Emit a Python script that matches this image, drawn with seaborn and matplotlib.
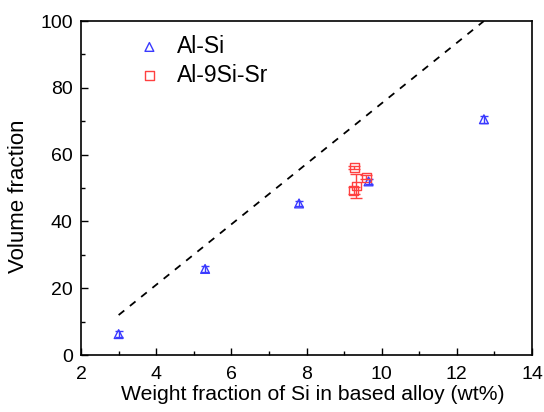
import pandas as pd
import numpy as np
import matplotlib.pyplot as plt
import seaborn as sns
from matplotlib.ticker import MultipleLocator

sns.set_style("ticks")
plt.rcParams['font.family'] = ['Liberation Sans', 'DejaVu Sans']
plt.rcParams['text.color'] = 'black'
plt.rcParams['axes.labelcolor'] = 'black'
plt.rcParams['xtick.color'] = 'black'
plt.rcParams['ytick.color'] = 'black'
plt.rcParams['axes.edgecolor'] = 'black'

# Al-Si series
alsi_x = [3.0, 5.3, 7.8, 9.65, 12.72]
alsi_y = [6.3, 25.8, 45.4, 52.0, 70.6]
alsi_err = [1.0, 0.8, 0.8, 0.8, 1.0]

# Al-9Si-Sr series
sr_x = [9.27, 9.32, 9.25, 9.59]
sr_y = [56.1, 50.6, 49.2, 53.2]
sr_err = [0.5, 3.5, 1.0, 0.6]

# dashed reference line
line_x = [3.0, 12.72]
line_y = [12.0, 100.0]

df = pd.DataFrame({
    "x": alsi_x + sr_x,
    "y": alsi_y + sr_y,
    "alloy": ["Al-Si"] * len(alsi_x) + ["Al-9Si-Sr"] * len(sr_x),
})

fig = plt.figure(figsize=(5.44, 4.12), dpi=100)
ax = fig.add_axes([0.149, 0.138, 0.829, 0.811])

sns.lineplot(x=line_x, y=line_y, ax=ax, color="black", linestyle=(0, (4, 4)),
             linewidth=1.3, legend=False)

ax.errorbar(alsi_x, alsi_y, yerr=alsi_err, fmt="none", ecolor="#3a3aff",
            elinewidth=1, capsize=3)
ax.errorbar(sr_x, sr_y, yerr=sr_err, fmt="none", ecolor="#ff4040",
            elinewidth=1, capsize=4)

palette = {"Al-Si": "#3a3aff", "Al-9Si-Sr": "#ff4040"}
markers = {"Al-Si": "^", "Al-9Si-Sr": "s"}
for name, grp in df.groupby("alloy", sort=False):
    sns.scatterplot(data=grp, x="x", y="y", ax=ax, marker=markers[name],
                    s=40, facecolors="none", edgecolor=palette[name],
                    linewidth=1, label=name)

ax.set_xlim(2, 14)
ax.set_ylim(0, 100)
ax.xaxis.set_major_locator(MultipleLocator(2))
ax.xaxis.set_minor_locator(MultipleLocator(1))
ax.yaxis.set_major_locator(MultipleLocator(20))
ax.yaxis.set_minor_locator(MultipleLocator(10))
ax.tick_params(which="both", direction="in", labelsize=14, width=1)
ax.tick_params(which="major", length=5)
ax.tick_params(which="minor", length=3)
ax.tick_params(axis="x", which="major", pad=8)
ax.tick_params(axis="y", which="major", pad=6)
for s in ax.spines.values():
    s.set_linewidth(1.2)

ax.set_xlabel("Weight fraction of Si in based alloy (wt%)", fontsize=15.2)
ax.set_ylabel("Volume fraction", fontsize=16)
ax.xaxis.set_label_coords(0.514, -0.088, transform=ax.transAxes)
ax.xaxis.label.set_va("top")
ax.yaxis.set_label_coords(-0.115, 0.476, transform=ax.transAxes)

ax.legend(loc="upper left", bbox_to_anchor=(0.055, 1.02), frameon=False,
          fontsize=16.5, handletextpad=0.2, labelspacing=0.25)

fig.savefig("out.png", dpi=100)
